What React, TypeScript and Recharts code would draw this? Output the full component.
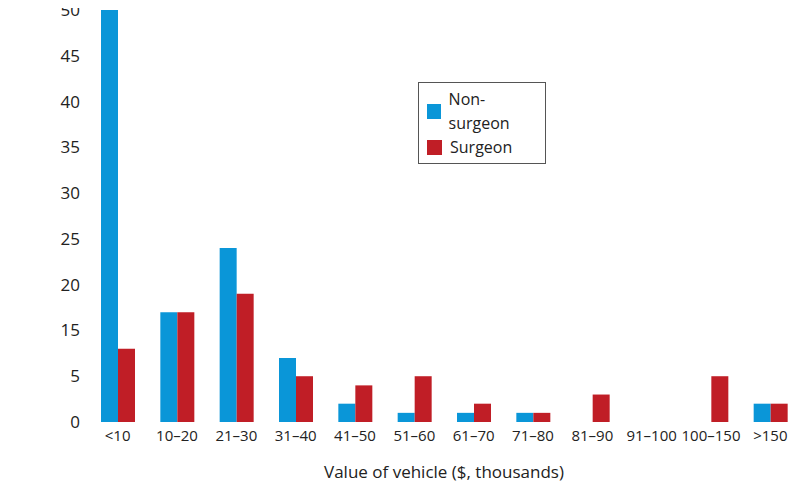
import React from 'react';
import { BarChart, Bar, XAxis, YAxis } from 'recharts';

// Value ranges of the vehicles
const categories = ['<10', '10–20', '21–30', '31–40', '41–50', '51–60', '61–70', '71–80', '81–90', '91–100', '100–150', '>150'];
// Bar heights measured against the drawn gridline spacing
const nonSurgeon = [45, 12, 19, 7, 2, 1, 1, 1, 0, 0, 0, 2];
const surgeon = [8, 12, 14, 5, 4, 5, 2, 1, 3, 0, 5, 2];
// Tick positions and the labels printed on them (the source skips "10")
const yTicks = [0, 5, 10, 15, 20, 25, 30, 35, 40, 45];
const yTickLabels = ['0', '5', '15', '20', '25', '30', '35', '40', '45', '50'];

const series = [
    { key: 'nonSurgeon', name: 'Non-surgeon', color: '#0a96d8' },
    { key: 'surgeon', name: 'Surgeon', color: '#c01e26' },
];

const data = categories.map((name, i) => ({ name, nonSurgeon: nonSurgeon[i], surgeon: surgeon[i] }));

const font = '"Open Sans", sans-serif';

const App: React.FC = () => (
    <div style={{ margin: -8, width: 800, height: 494, background: '#fff', fontFamily: font, position: 'relative' }}>
        <BarChart width={800} height={494} data={data} margin={{ top: 10, right: 0, left: 8, bottom: 10 }} barGap={0} barSize={17}>
            <XAxis
                dataKey="name"
                axisLine={false}
                tickLine={false}
                interval={0}
                height={62}
                tick={{ fontSize: 15, fill: '#222', fontFamily: font }}
                label={{ value: 'Value of vehicle ($, thousands)', position: 'insideBottom', offset: 6, fontSize: 17, fill: '#222', fontFamily: font }}
            />
            <YAxis
                domain={[0, 45]}
                ticks={yTicks}
                tickFormatter={(v: number) => yTickLabels[yTicks.indexOf(v)]}
                axisLine={false}
                tickLine={false}
                width={80}
                interval={0}
                tick={{ fontSize: 17, fill: '#222', fontFamily: font }}
                label={{ value: 'Number of vehicles', angle: -90, position: 'insideLeft', offset: -60, fontSize: 17, fill: '#222', fontFamily: font, style: { textAnchor: 'middle' } }}
            />
            {series.map(s => (
                <Bar key={s.key} dataKey={s.key} name={s.name} fill={s.color} isAnimationActive={false} />
            ))}
        </BarChart>
        {/* Legend box drawn inside the plot */}
        <div style={{ position: 'absolute', left: 418, top: 82, width: 110, padding: '4px 8px', border: '1px solid #555', background: '#fff', fontSize: 16, lineHeight: '24px', color: '#222' }}>
            {series.map(s => (
                <div key={s.key} style={{ display: 'flex', alignItems: 'center' }}>
                    <span style={{ width: 15, height: 15, background: s.color, marginRight: 8, display: 'inline-block' }} />
                    {s.name}
                </div>
            ))}
        </div>
    </div>
);

export default App;
